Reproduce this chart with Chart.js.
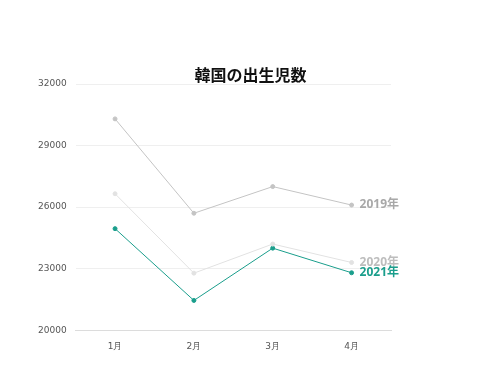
<!DOCTYPE html>
<html>
<head>
<meta charset="utf-8">
<script src="https://cdn.jsdelivr.net/npm/chart.js@4"></script>
<style>
  html, body { margin: 0; padding: 0; background: #fff; }
  #wrap { width: 501px; height: 378px; }
</style>
</head>
<body>
<div id="wrap"><canvas id="birthChart"></canvas></div>
<script>
const months = ['1月', '2月', '3月', '4月'];
const births2019 = [30300, 25700, 27000, 26100];
const births2020 = [26650, 22780, 24200, 23300];
const births2021 = [24950, 21450, 24000, 22800];
const yTicks = [20000, 23000, 26000, 29000, 32000];
const chartTitle = '韓国の出生児数';

const COLORS = { y2019: '#c4c4c4', y2020: '#e2e2e2', y2021: '#1a9e8c' };
const LABEL_COLORS = { y2019: '#a8a8a8', y2020: '#bdbdbd', y2021: '#1a9e8c' };

const CJK = '"Noto Sans", "Noto Sans CJK JP", sans-serif';

// draws "2019年" etc. next to the last point of each line
const endLabels = {
  id: 'endLabels',
  afterDatasetsDraw(chart) {
    const ctx = chart.ctx;
    ctx.save();
    ctx.font = 'bold 12px ' + CJK;
    ctx.textBaseline = 'middle';
    ctx.textAlign = 'left';
    chart.data.datasets.forEach((ds, i) => {
      const meta = chart.getDatasetMeta(i);
      const last = meta.data[meta.data.length - 1];
      ctx.fillStyle = ds.labelColor;
      ctx.fillText(ds.label, last.x + 8, last.y);
    });
    ctx.restore();
  }
};

// title centred on the whole canvas, just above the plot
const pageTitle = {
  id: 'pageTitle',
  afterDraw(chart) {
    const ctx = chart.ctx;
    ctx.save();
    ctx.font = 'bold 16px ' + CJK;
    ctx.fillStyle = '#111';
    ctx.textAlign = 'center';
    ctx.textBaseline = 'alphabetic';
    ctx.fillText(chartTitle, chart.width / 2, chart.chartArea.top - 3);
    ctx.restore();
  }
};

function line(label, data, color, labelColor) {
  return {
    label, data, labelColor,
    borderColor: color, backgroundColor: color,
    borderWidth: 1, pointRadius: 2, pointHoverRadius: 2, tension: 0,
  };
}

new Chart(document.getElementById('birthChart'), {
  type: 'line',
  data: {
    labels: months,
    datasets: [
      line('2019年', births2019, COLORS.y2019, LABEL_COLORS.y2019),
      line('2020年', births2020, COLORS.y2020, LABEL_COLORS.y2020),
      line('2021年', births2021, COLORS.y2021, LABEL_COLORS.y2021),
    ],
  },
  options: {
    responsive: true,
    maintainAspectRatio: false,
    animation: false,
    layout: { padding: { top: 84, right: 110, bottom: 15, left: 29 } },
    plugins: {
      legend: { display: false },
      tooltip: { enabled: false },
      title: { display: false },
    },
    scales: {
      x: {
        offset: true,
        grid: { display: false, drawTicks: false },
        border: { color: '#dcdcdc' },
        ticks: { color: '#555', font: { family: 'DejaVu Sans', size: 9 }, padding: 11 },
      },
      y: {
        min: 20000, max: 32000,
        afterBuildTicks: (axis) => { axis.ticks = yTicks.map(v => ({ value: v })); },
        grid: { color: '#efefef', drawTicks: false },
        border: { display: false },
        ticks: { color: '#555', font: { family: 'DejaVu Sans', size: 9 }, padding: 9, callback: (v) => String(v) },
      },
    },
  },
  plugins: [endLabels, pageTitle],
});
</script>
</body>
</html>
